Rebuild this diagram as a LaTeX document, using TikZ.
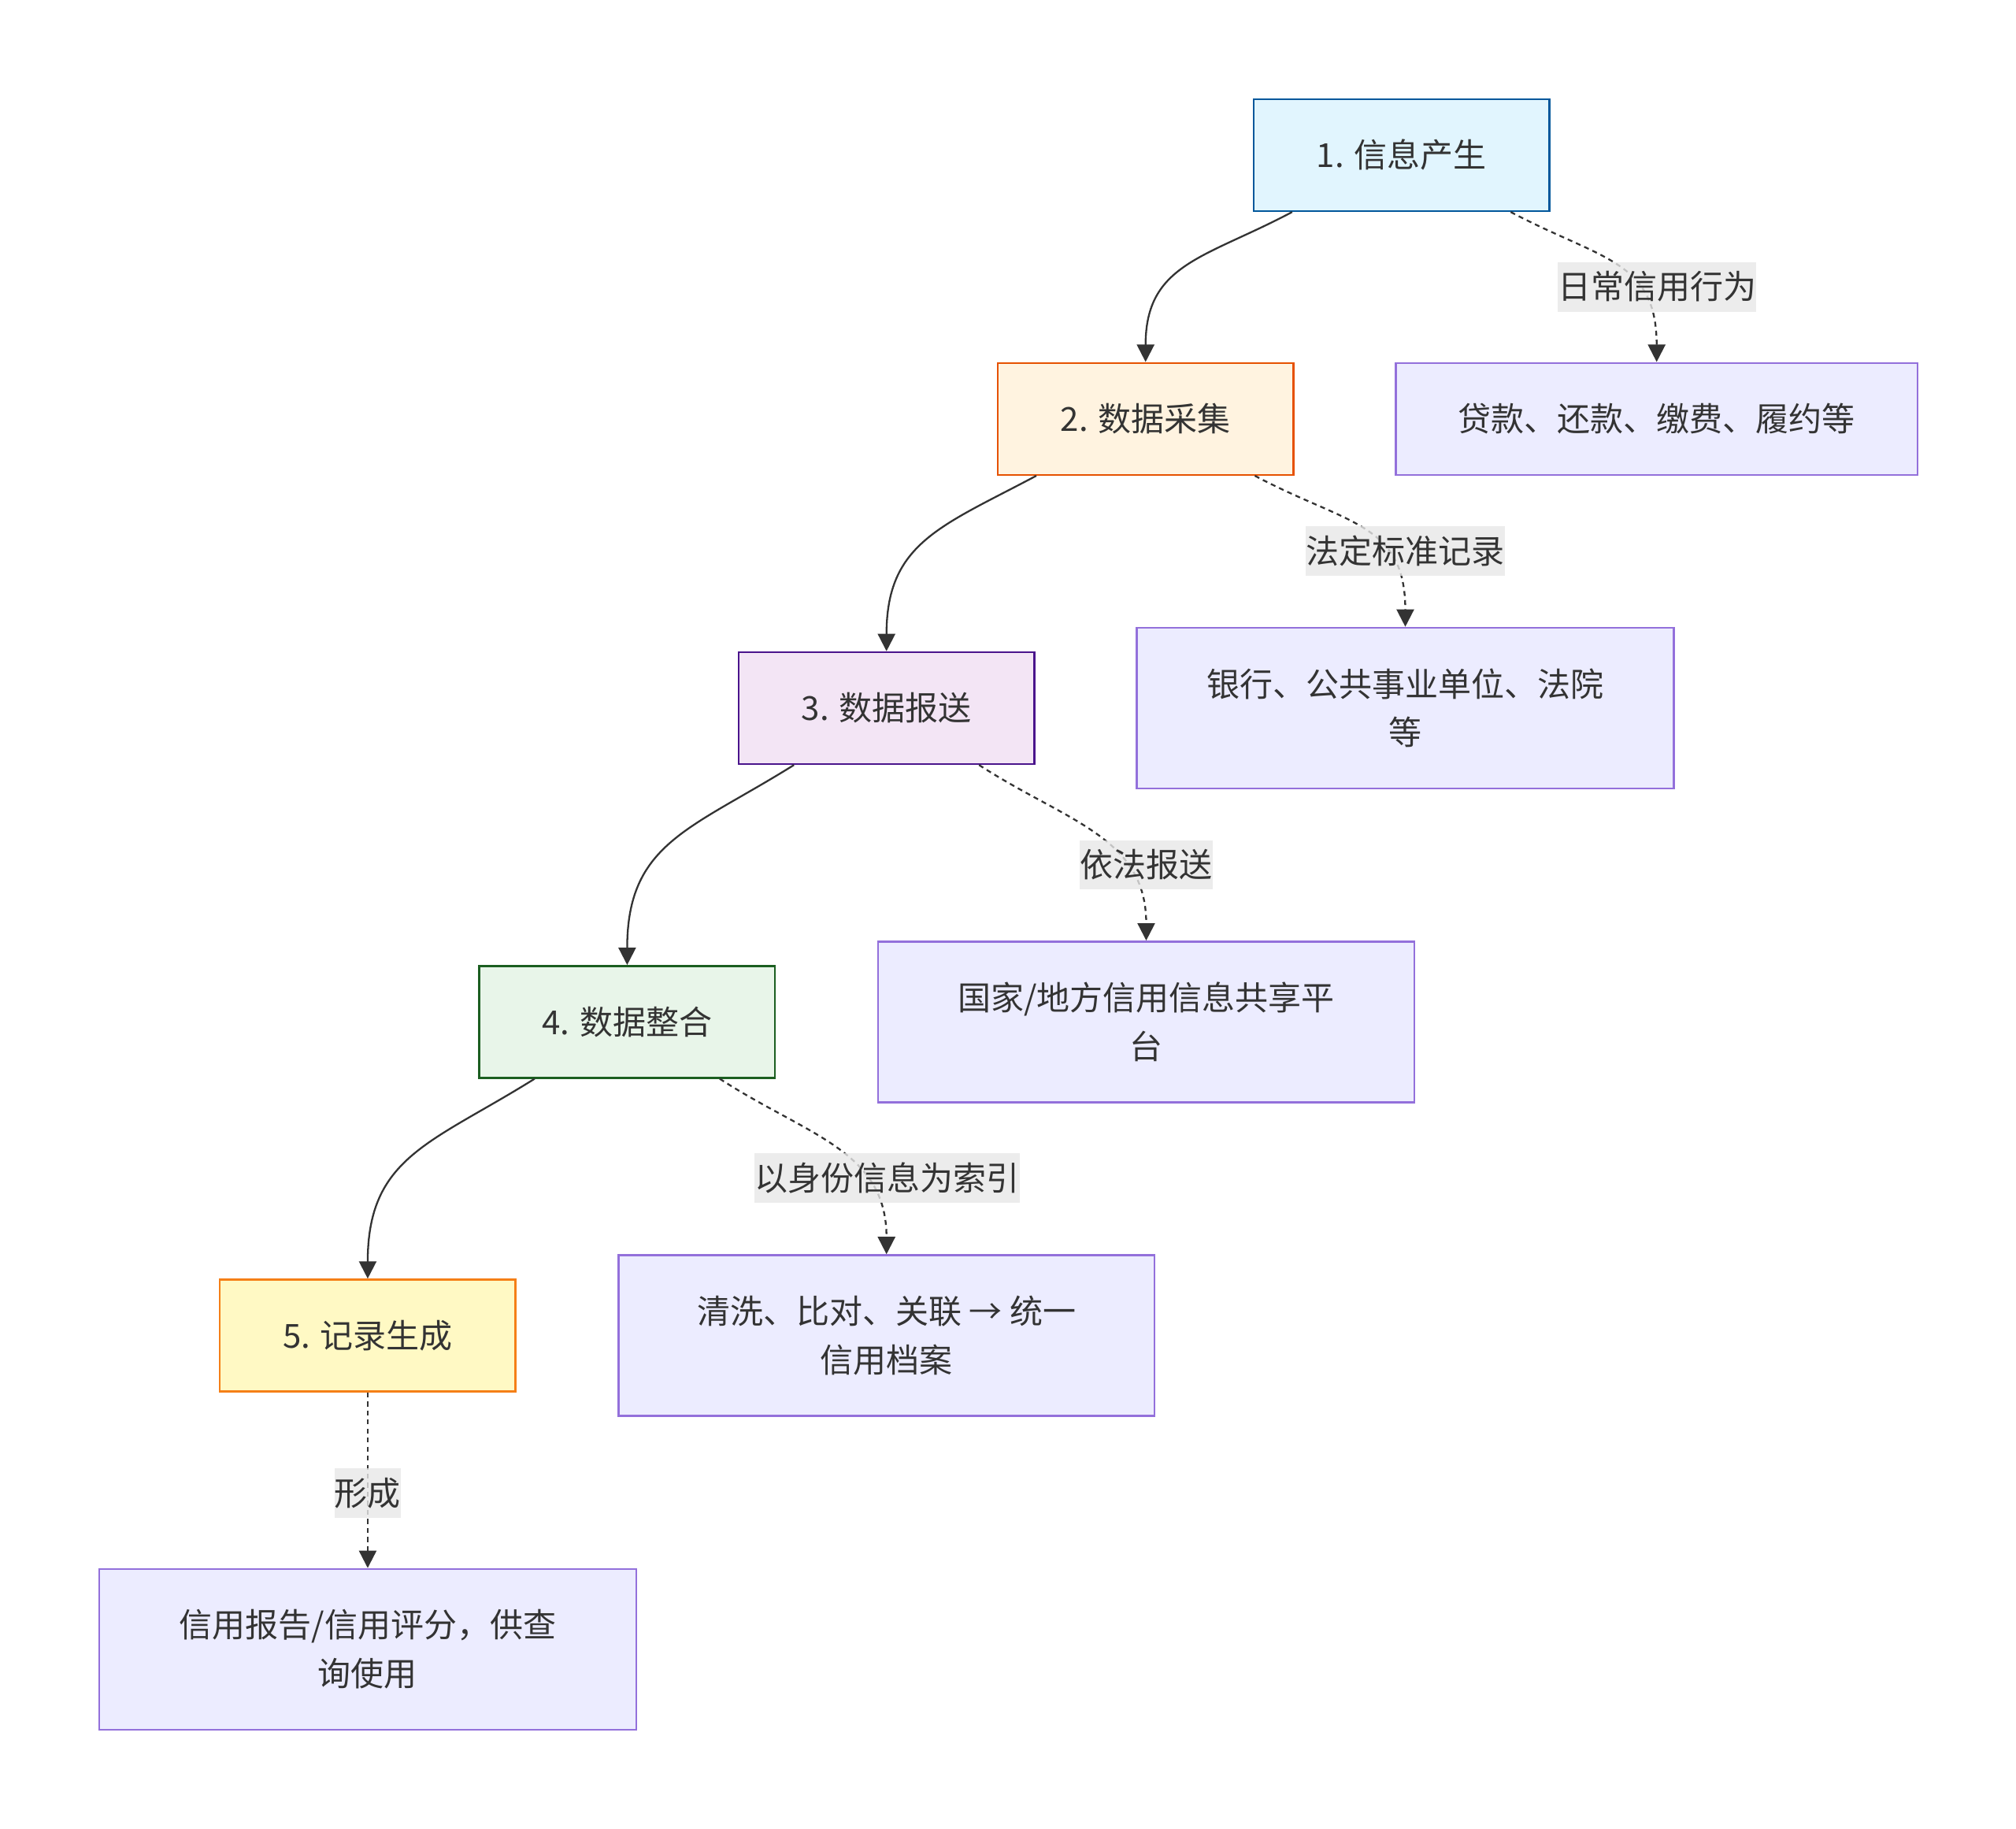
\documentclass[tikz,border=0pt]{standalone}
\usepackage{fontspec}
\setmainfont{Noto Sans CJK SC}
\usepackage{tikz}
\usetikzlibrary{arrows.meta}
\usepackage{xcolor}

\definecolor{infofill}{HTML}{E1F5FE}
\definecolor{infoedge}{HTML}{01579B}
\definecolor{collectfill}{HTML}{FFF3E0}
\definecolor{collectedge}{HTML}{E65100}
\definecolor{reportfill}{HTML}{F3E5F5}
\definecolor{reportedge}{HTML}{4A148C}
\definecolor{mergefill}{HTML}{E8F5E9}
\definecolor{mergeedge}{HTML}{1B5E20}
\definecolor{recordfill}{HTML}{FFF9C4}
\definecolor{recordedge}{HTML}{F57F17}
\definecolor{detailfill}{HTML}{ECECFF}
\definecolor{detailedge}{HTML}{9370DB}
\definecolor{labelgray}{HTML}{E8E8E8}
\definecolor{linegray}{HTML}{333333}

\begin{document}
\begin{tikzpicture}[x = 0.02cm, y = 0.02cm,
	every node/.style = {text = linegray, font = \fontsize{14.65}{21.5}\selectfont},
	stage/.style = {draw, line width = 0.85pt, minimum width = 4.6cm, minimum height = 1.74cm, inner sep = 0pt},
	detail/.style = {draw = detailedge, fill = detailfill, line width = 0.85pt, minimum height = 2.5cm, inner sep = 0pt, align = center},
	edgelabel/.style = {fill = labelgray, fill opacity = 0.8, text opacity = 1, inner xsep = 0pt, inner ysep = 0pt, minimum height = 0.77cm},
	flow/.style = {draw = linegray, line width = 0.8pt, -{Triangle[length = 0.27cm, width = 0.27cm]}},
	dotflow/.style = {flow, dash pattern = on 2.2pt off 1.8pt}]
	
	\fill[white] (0,0) rectangle (1568,-1422);
	
	\node[stage, fill = infofill, draw = infoedge] (info) at (1090,-120.6) {1. 信息产生};
	\node[stage, fill = collectfill, draw = collectedge] (collect) at (891,-325.7) {2. 数据采集};
	\node[stage, fill = reportfill, draw = reportedge] (report) at (689.5,-550.6) {3. 数据报送};
	\node[stage, fill = mergefill, draw = mergeedge] (merge) at (487.8,-794.6) {4. 数据整合};
	\node[stage, fill = recordfill, draw = recordedge] (record) at (286,-1038.5) {5. 记录生成};
	
	\node[detail, minimum width = 8.12cm, minimum height = 1.74cm] (acts) at (1288.5,-325.7) {贷款、还款、缴费、履约等};
	\node[detail, minimum width = 8.36cm] (sources) at (1093,-550.6) {银行、公共事业单位、法院\\等};
	\node[detail, minimum width = 8.34cm] (platform) at (891.5,-794.6) {国家/地方信用信息共享平\\台};
	\node[detail, minimum width = 8.34cm] (archive) at (689.5,-1038.5) {清洗、比对、关联 → 统一\\信用档案};
	\node[detail, minimum width = 8.36cm] (product) at (286,-1282.5) {信用报告/信用评分，供查\\询使用};
	
	\draw[flow] ([xshift = -1.7cm]info.south) to[out = 208, in = 90, looseness = 1.2] (collect.north);
	\draw[flow] ([xshift = -1.7cm]collect.south) to[out = 208, in = 90, looseness = 1.2] (report.north);
	\draw[flow] ([xshift = -1.44cm]report.south) to[out = 212, in = 90, looseness = 1.2] (merge.north);
	\draw[flow] ([xshift = -1.44cm]merge.south) to[out = 212, in = 90, looseness = 1.2] (record.north);
	
	\draw[dotflow] ([xshift = 1.7cm]info.south) to[out = -28, in = 90, looseness = 1.25] (acts.north);
	\draw[dotflow] ([xshift = 1.7cm]collect.south) to[out = -28, in = 90, looseness = 1.25] (sources.north);
	\draw[dotflow] ([xshift = 1.44cm]report.south) to[out = -33, in = 90, looseness = 1.1] (platform.north);
	\draw[dotflow] ([xshift = 1.44cm]merge.south) to[out = -33, in = 90, looseness = 1.1] (archive.north);
	\draw[dotflow] (record.south) -- (product.north);
	
	\node[edgelabel] (daily) at (1288.8,-223) {日常信用行为};
	\node[edgelabel] (legal) at (1093,-428.5) {法定标准记录};
	\node[edgelabel] (bylaw) at (891.5,-672.5) {依法报送};
	\node[edgelabel] (index) at (690,-916) {以身份信息为索引};
	\node[edgelabel] (form) at (286,-1161) {形成};
\end{tikzpicture}
\end{document}
